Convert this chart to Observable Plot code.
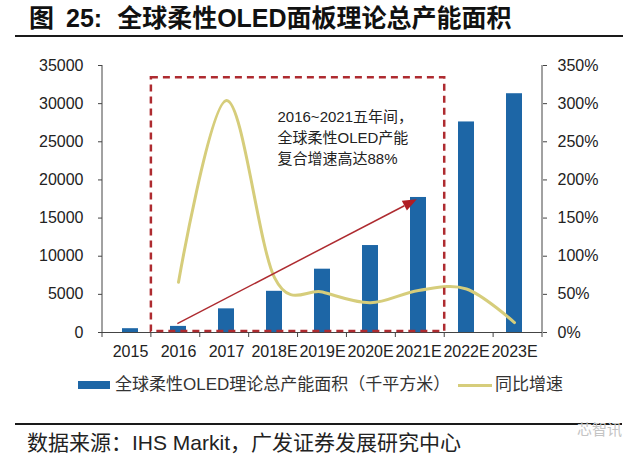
<!DOCTYPE html>
<html><head><meta charset="utf-8">
<script src="https://cdn.jsdelivr.net/npm/d3@7"></script>
<script src="https://cdn.jsdelivr.net/npm/@observablehq/plot@0.6"></script>
<style>
html,body{margin:0;padding:0;background:#fff;}
#root{position:relative;width:640px;height:459px;overflow:hidden;font-family:"Liberation Sans",Arial,"Noto Sans CJK SC",sans-serif;color:#222;}
#title{position:absolute;left:29px;top:3px;font-size:25px;font-weight:bold;color:#111;white-space:nowrap;line-height:30px;}
#title .n{margin-left:12px;}
#title .t{margin-left:15px;}
#rule1{position:absolute;left:15px;top:35px;width:608px;height:2px;background:#1a1a1a;}
#chart{position:absolute;left:0;top:50px;}
.lg{position:absolute;white-space:nowrap;font-size:17px;line-height:20px;top:375px;color:#333;}
#sw1{position:absolute;left:78px;top:381px;width:32px;height:8px;}
#sw2{position:absolute;left:458px;top:384px;width:34px;height:3px;}
#rule2{position:absolute;left:15px;top:423px;width:607px;height:2px;background:#1a1a1a;}
#source{position:absolute;left:27px;top:431px;font-size:21px;line-height:24px;white-space:nowrap;color:#222;}
#wm{position:absolute;left:577px;top:421px;font-size:15px;line-height:18px;color:#c4c4c4;white-space:nowrap;}
</style>
</head><body>
<div id="root">
  <div id="title">图<span class="n">25:</span><span class="t">全球柔性OLED面板理论总产能面积</span></div>
  <div id="rule1"></div>
  <div id="chart"></div>
  <div id="sw1"></div><div class="lg" style="left:115px">全球柔性OLED理论总产能面积（千平方米）</div>
  <div id="sw2"></div><div class="lg" style="left:495px">同比增速</div>
  <div id="rule2"></div>
  <div id="source">数据来源：IHS Markit，广发证券发展研究中心</div>
  <div id="wm">芯智讯</div>
</div>
<script>
// ---- data ----
const years = ["2015","2016","2017","2018E","2019E","2020E","2021E","2022E","2023E"];
const capacity = [500, 800, 3100, 5400, 8300, 11400, 17700, 27600, 31300];
const growth = [null, 0.66, 3.04, 0.72, 0.53, 0.39, 0.55, 0.57, 0.13];
const leftTicks = [0, 5000, 10000, 15000, 20000, 25000, 30000, 35000];
const rightTickLabels = ["0%", "50%", "100%", "150%", "200%", "250%", "300%", "350%"];
const rightMax = 3.5;
const noteText = "2016~2021五年间，\n全球柔性OLED产能\n复合增速高达88%";
const noteAt = {x: "2018E", y: 25700};
const boxFrom = "2016", boxTo = "2021E", boxTop = 33400;
const arrowFrom = {x: "2016", y: 1100}, arrowTo = {x: "2021E", y: 17400};

// ---- styles ----
const barColor = "#1d66a6";
const lineColor = "#d6cd7b";
const redColor = "#ae2b30";
const axisColor = "#444";
document.getElementById("sw1").style.background = barColor;
document.getElementById("sw2").style.background = lineColor;

const yMax = leftTicks[leftTicks.length - 1];
const k = yMax / rightMax;
const rows = years.map((year, i) => ({year, capacity: capacity[i], growth: growth[i]}));

const plot = Plot.plot({
  width: 640, height: 315,
  marginLeft: 102, marginRight: 98, marginTop: 15, marginBottom: 33,
  style: {fontFamily: '"Liberation Sans", Arial, "Noto Sans CJK SC", sans-serif', fontSize: "16px", color: "#222", background: "transparent", overflow: "visible"},
  x: {type: "band", domain: years, paddingInner: 0.673, paddingOuter: 0.3365, label: null},
  y: {domain: [0, yMax], label: null},
  marks: [
    Plot.barY(rows, {x: "year", y: "capacity", fill: barColor}),
    Plot.line(rows.filter(d => d.growth != null), {x: "year", y: d => d.growth * k, curve: "cardinal", stroke: lineColor, strokeWidth: 3}),
    Plot.text([noteAt], {x: "x", y: "y", text: () => noteText, textAnchor: "start", dx: 3, lineHeight: 1.4, fontSize: 15, fill: "#222"}),
    Plot.ruleY([0], {stroke: axisColor}),
    Plot.axisY({anchor: "left", ticks: leftTicks, tickFormat: d => String(d), tickSize: 4, tickPadding: 15, stroke: axisColor, fill: "#222", label: null}),
    Plot.axisY({anchor: "right", ticks: leftTicks, tickFormat: d => rightTickLabels[leftTicks.indexOf(d)], tickSize: 4, tickPadding: 11, stroke: axisColor, fill: "#222", label: null}),
    Plot.axisX({tickSize: 0, tickPadding: 13, fill: "#222", label: null})
  ]
});
document.getElementById("chart").appendChild(plot);

// ---- overlay annotations using Plot's scales ----
const svgEl = plot.tagName.toLowerCase() === "svg" ? plot : plot.querySelector("svg");
const svg = d3.select(svgEl);
const xs = plot.scale("x"), ys = plot.scale("y");
const [r0, r1] = xs.range;
const step = (r1 - r0) / xs.domain.length;
const edge = i => r0 + step * i;
const center = v => r0 + step * (xs.domain.indexOf(v) + 0.5);
const Y = v => ys.apply ? ys.apply(v) : ys.range[0] + (v - ys.domain[0]) / (ys.domain[1] - ys.domain[0]) * (ys.range[1] - ys.range[0]);
const y0 = Y(0), yTop = Y(yMax);

const g = svg.append("g");
// axis lines
g.append("line").attr("x1", r0).attr("x2", r0).attr("y1", yTop).attr("y2", y0 + 5).attr("stroke", axisColor);
g.append("line").attr("x1", r1).attr("x2", r1).attr("y1", yTop).attr("y2", y0 + 5).attr("stroke", axisColor);
// x-axis boundary ticks
for (let i = 1; i < xs.domain.length; i++) {
  g.append("line").attr("x1", edge(i)).attr("x2", edge(i)).attr("y1", y0).attr("y2", y0 + 5).attr("stroke", axisColor);
}
// dashed box
const bi0 = xs.domain.indexOf(boxFrom), bi1 = xs.domain.indexOf(boxTo) + 1;
g.append("rect").attr("x", edge(bi0)).attr("y", Y(boxTop)).attr("width", edge(bi1) - edge(bi0)).attr("height", y0 - 1 - Y(boxTop))
  .attr("fill", "none").attr("stroke", redColor).attr("stroke-width", 2.5).attr("stroke-dasharray", "7,5");
// arrow
const ax0 = center(arrowFrom.x) + 2, ay0 = Y(arrowFrom.y);
const ax1 = center(arrowTo.x) - 3, ay1 = Y(arrowTo.y);
const ang = Math.atan2(ay1 - ay0, ax1 - ax0);
const hl = 14, hw = 5.5;
const bx = ax1 - hl * Math.cos(ang), by = ay1 - hl * Math.sin(ang);
g.append("line").attr("x1", ax0).attr("y1", ay0).attr("x2", bx).attr("y2", by).attr("stroke", redColor).attr("stroke-width", 1.5);
g.append("path").attr("d", `M${ax1},${ay1}L${bx - hw * Math.sin(ang)},${by + hw * Math.cos(ang)}L${bx + hw * Math.sin(ang)},${by - hw * Math.cos(ang)}Z`).attr("fill", "#b01d24");
</script>
</body></html>
